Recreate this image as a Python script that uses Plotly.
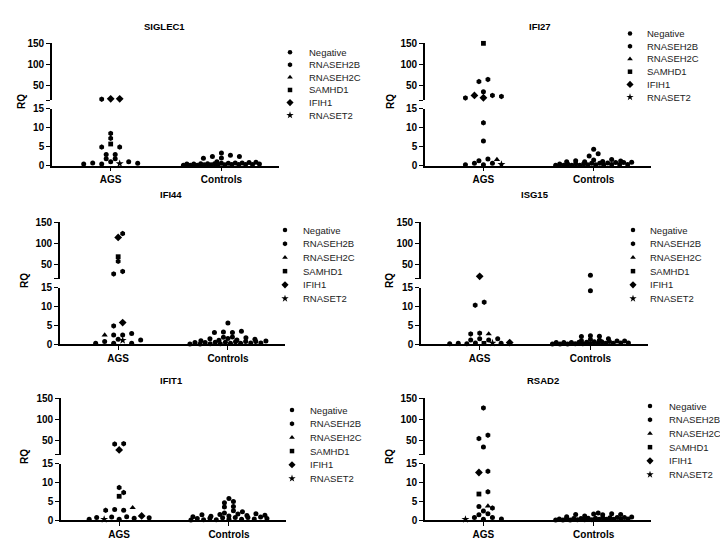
import plotly.graph_objects as go

W, H = 728, 540

GENES = ["SIGLEC1", "IFI27", "IFI44", "ISG15", "IFIT1", "RSAD2"]
GROUPS = ["AGS", "Controls"]
GENOTYPES = ["Negative", "RNASEH2B", "RNASEH2C", "SAMHD1", "IFIH1", "RNASET2"]
GT_CODE = {"N": "Negative", "B": "RNASEH2B", "C": "RNASEH2C", "S": "SAMHD1", "I": "IFIH1", "T": "RNASET2"}
LOW_TICKS = [0, 5, 10, 15]
HIGH_TICKS = [50, 100, 150]
AXIS_BREAK = 15
AXIS_MAX = 150

# ---- data (RQ values) ----
SIGLEC1_AGS = [18, 17, 18, 8.5, 7.2, 5.7, 4.9, 4.9, 2.9, 2.9, 1.8, 1.8, 1.0, 0.7, 0.5, 0.4, 0.4, 0.6, 1.0]
SIGLEC1_GT = ["I", "B", "I", "B", "B", "S", "B", "B", "N", "N", "N", "N", "N", "N", "T", "N", "N", "N", "N"]
SIGLEC1_CTRL = [3.3, 2.4, 2.0, 1.9, 2.4, 2.7, 1.0, 0.9, 0.8, 0.7, 0.7, 0.6, 0.6, 0.5, 0.5, 0.5, 0.4, 0.4,
                0.4, 0.3, 0.3, 0.3, 0.3, 0.2, 0.2, 0.2, 0.2, 0.1, 0.1, 0.1]

IFI27_AGS = [150, 59, 64, 35, 26, 20.5, 20, 23.7, 26, 11.3, 6.5, 1.7, 0.6, 0.3, 0.2, 0.2, 0.6, 1.3, 1.6]
IFI27_GT = ["S", "B", "B", "N", "I", "I", "B", "B", "B", "B", "N", "N", "N", "T", "N", "N", "N", "N", "C"]
IFI27_CTRL = [4.3, 3.1, 2.5, 1.6, 1.5, 1.3, 1.2, 1.1, 1.0, 1.0, 0.9, 0.8, 0.8, 0.7, 0.6, 0.6, 0.5, 0.5,
              0.4, 0.4, 0.3, 0.3, 0.3, 0.2, 0.2, 0.2, 0.1, 0.1, 0.1, 0.1]

IFI44_AGS = [123, 114, 68, 57, 33, 27, 5.8, 4.9, 2.9, 2.5, 2.5, 2.5, 1.4, 1.1, 1.2, 0.8, 0.3, 0.3, 0.3]
IFI44_GT = ["B", "I", "S", "B", "B", "B", "I", "B", "N", "C", "N", "N", "N", "T", "N", "N", "N", "N", "N"]
IFI44_CTRL = [5.7, 3.5, 3.3, 3.2, 3.2, 2.0, 1.9, 1.8, 1.6, 1.5, 1.4, 1.2, 1.1, 1.0, 0.9, 0.8, 0.8, 0.7,
              0.6, 0.6, 0.5, 0.5, 0.4, 0.4, 0.3, 0.3, 0.2, 0.2, 0.1, 0.1]

ISG15_AGS = [21.4, 10.4, 11.2, 2.8, 2.8, 3.0, 1.5, 1.2, 1.2, 1.5, 0.4, 0.2, 0.4, 0.5, 0.3, 0.3, 0.2, 0.3]
ISG15_GT = ["I", "B", "B", "B", "C", "B", "N", "N", "N", "N", "N", "N", "T", "I", "S", "N", "N", "N"]
ISG15_CTRL = [24, 14.2, 2.3, 2.1, 2.2, 1.5, 1.3, 1.1, 1.0, 0.9, 0.9, 0.8, 0.7, 0.7, 0.6, 0.6, 0.5, 0.5,
              0.5, 0.4, 0.4, 0.3, 0.3, 0.3, 0.2, 0.2, 0.2, 0.1, 0.1, 0.1]

IFIT1_AGS = [42, 41, 27, 8.7, 7.4, 6.4, 3.4, 2.7, 2.7, 2.9, 1.2, 1.0, 0.9, 0.7, 0.3, 0.3, 0.3, 0.6, 0.8]
IFIT1_GT = ["B", "B", "I", "B", "B", "S", "C", "B", "N", "N", "I", "N", "N", "N", "N", "T", "N", "N", "N"]
IFIT1_CTRL = [5.8, 5.0, 4.7, 3.7, 3.6, 2.6, 2.3, 2.0, 1.8, 1.7, 1.6, 1.5, 1.4, 1.3, 1.2, 1.1, 1.0, 0.9,
              0.8, 0.8, 0.7, 0.6, 0.5, 0.5, 0.4, 0.3, 0.3, 0.2, 0.2, 0.1]

RSAD2_AGS = [127, 62, 54, 34, 13.0, 12.7, 7.6, 7.0, 3.8, 3.7, 3.3, 2.5, 1.8, 1.5, 0.8, 0.8, 0.3, 0.3, 0.4]
RSAD2_GT = ["B", "B", "B", "N", "B", "I", "B", "S", "C", "N", "B", "N", "N", "N", "N", "N", "T", "N", "N"]
RSAD2_CTRL = [2.0, 1.8, 1.7, 1.6, 1.6, 1.5, 1.2, 1.0, 0.9, 0.8, 0.8, 0.7, 0.7, 0.6, 0.6, 0.5, 0.5, 0.5,
              0.4, 0.4, 0.4, 0.3, 0.3, 0.3, 0.2, 0.2, 0.2, 0.1, 0.1, 0.1]

DATA = {
    "SIGLEC1": (SIGLEC1_AGS, SIGLEC1_GT, SIGLEC1_CTRL),
    "IFI27": (IFI27_AGS, IFI27_GT, IFI27_CTRL),
    "IFI44": (IFI44_AGS, IFI44_GT, IFI44_CTRL),
    "ISG15": (ISG15_AGS, ISG15_GT, ISG15_CTRL),
    "IFIT1": (IFIT1_AGS, IFIT1_GT, IFIT1_CTRL),
    "RSAD2": (RSAD2_AGS, RSAD2_GT, RSAD2_CTRL),
}

# ---- styling / layout (pixels) ----
SYMBOL = {"Negative": "circle", "RNASEH2B": "hexagon", "RNASEH2C": "triangle-up",
          "SAMHD1": "square", "IFIH1": "diamond", "RNASET2": "star"}
MSIZE = {"Negative": 5, "RNASEH2B": 5.5, "RNASEH2C": 5.5, "SAMHD1": 4.8, "IFIH1": 6, "RNASET2": 6}
LSIZE = {"Negative": 4.5, "RNASEH2B": 5, "RNASEH2C": 5, "SAMHD1": 4.5, "IFIH1": 5.5, "RNASET2": 5.5}
XR = [0.47, 2.52]
SEG = 58      # pixel height of each axis segment
GAP = 9       # pixel gap of the axis break

# panel: x0, x1, top (px of 150), title (x,y), RQ x, legend (marker x, text x, first y, step)
PANELS = {
    "SIGLEC1": dict(x0=44, x1=271, top=30, tx=156, ty=13, rq=14, lg=(282, 299, 39, 12.9)),
    "IFI27":   dict(x0=417, x1=643, top=30, tx=532, ty=13, rq=383, lg=(622, 637, 20, 13.0)),
    "IFI44":   dict(x0=52, x1=277, top=213, tx=163, ty=185, rq=17, lg=(277, 293, 221, 14.0)),
    "ISG15":   dict(x0=413, x1=640, top=213, tx=527, ty=185, rq=382, lg=(625, 640, 221, 14.0)),
    "IFIT1":   dict(x0=53, x1=278, top=393, tx=163, ty=375, rq=17, lg=(284, 300, 405, 14.0)),
    "RSAD2":   dict(x0=417, x1=643, top=393, tx=535, ty=375, rq=382, lg=(642, 659, 401, 14.0)),
}

FONT = "Liberation Sans, Arial, sans-serif"


def px_height(v):
    """pixel height above baseline of a value on the broken axis"""
    if v <= AXIS_BREAK:
        return v * SEG / AXIS_BREAK
    return SEG + GAP + (v - AXIS_BREAK) * SEG / (AXIS_MAX - AXIS_BREAK)


def row_scatter(vals, row_h, step, max_half, clear):
    """Prism-like scatter: values that fall in the same row are spread symmetrically;
    a row is nudged sideways when it would sit on top of the row beneath."""
    ys = [px_height(v) for v in vals]
    order = sorted(range(len(vals)), key=lambda k: ys[k])
    rows, cur, start = [], [], None
    for i in order:
        if cur and ys[i] - start >= row_h:
            rows.append(cur)
            cur = []
        if not cur:
            start = ys[i]
        cur.append(i)
    if cur:
        rows.append(cur)
    xs = [0.0] * len(vals)
    placed = []
    for r in rows:
        n = len(r)
        s = step
        if n > 1 and (n - 1) * s / 2 > max_half:
            s = 2 * max_half / (n - 1)
        lo = r[: (n + 1) // 2]
        hi = r[(n + 1) // 2:]
        seq = [lo[k // 2] if k % 2 == 0 else hi[k // 2] for k in range(n)]
        base = [(k - (n - 1) / 2) * s for k in range(n)]
        best, best_d = 0.0, -1
        for sh in (0, step / 2, -step / 2, step, -step, 1.5 * step, -1.5 * step):
            dmin = min([((b + sh - qx) ** 2 + (ys[i] - qy) ** 2) ** 0.5
                        for b, i in zip(base, seq) for qx, qy in placed] or [99])
            if dmin >= clear:
                best = sh
                break
            if dmin > best_d:
                best, best_d = sh, dmin
        if n > 4:
            best = 0.0
        for b, i in zip(base, seq):
            xs[i] = b + best
            placed.append((xs[i], ys[i]))
    return xs


fig = go.Figure()
layout = dict(width=W, height=H, margin=dict(l=0, r=0, t=0, b=0),
              paper_bgcolor="white", plot_bgcolor="rgba(0,0,0,0)", showlegend=False,
              font=dict(family=FONT, color="black"))
annotations = []

axis_common = dict(showgrid=False, zeroline=False, showline=True, linecolor="black", linewidth=1.6,
                   ticks="outside", ticklen=4, tickwidth=1.4, tickcolor="black",
                   tickfont=dict(family=FONT, size=10, color="black", weight="bold"), fixedrange=True)

for gi, gene in enumerate(GENES):
    p = PANELS[gene]
    ags, gt, ctrl = DATA[gene]
    xn = "x" if gi == 0 else f"x{gi + 1}"
    ylo_n = 2 * gi + 1
    yhi_n = 2 * gi + 2
    ylo = "y" if ylo_n == 1 else f"y{ylo_n}"
    yhi = f"y{yhi_n}"
    xkey = "xaxis" if gi == 0 else f"xaxis{gi + 1}"
    ylokey = "yaxis" if ylo_n == 1 else f"yaxis{ylo_n}"
    yhikey = f"yaxis{yhi_n}"

    base = p["top"] + 2 * SEG + GAP
    low_dom = [1 - base / H, 1 - (base - SEG) / H]
    high_dom = [1 - (p["top"] + SEG) / H, 1 - p["top"] / H]
    xdom = [p["x0"] / W, p["x1"] / W]
    ppu = (p["x1"] - p["x0"]) / (XR[1] - XR[0])

    layout[xkey] = dict(axis_common, domain=xdom, range=XR, anchor=ylo,
                        tickvals=[1, 2], ticktext=GROUPS)
    layout[ylokey] = dict(axis_common, domain=low_dom, range=[0, AXIS_BREAK], anchor=xn,
                          tickvals=LOW_TICKS, ticktext=[str(t) for t in LOW_TICKS])
    layout[yhikey] = dict(axis_common, domain=high_dom, range=[AXIS_BREAK, AXIS_MAX], anchor=xn,
                          tickvals=[AXIS_BREAK] + HIGH_TICKS, ticktext=[""] + [str(t) for t in HIGH_TICKS])

    # AGS
    offs = row_scatter(ags, 3.6, 9.0, 30, 4.0)
    for g in GENOTYPES:
        for seg_axis, cond in ((ylo, lambda v: v <= AXIS_BREAK), (yhi, lambda v: v > AXIS_BREAK)):
            xs = [1 + o / ppu for v, c, o in zip(ags, gt, offs) if GT_CODE[c] == g and cond(v)]
            ys = [v for v, c in zip(ags, gt) if GT_CODE[c] == g and cond(v)]
            if xs:
                fig.add_trace(go.Scatter(x=xs, y=ys, mode="markers", xaxis=xn, yaxis=seg_axis,
                                         cliponaxis=False, hoverinfo="skip",
                                         marker=dict(symbol=SYMBOL[g], size=MSIZE[g], color="black",
                                                     line=dict(width=0))))
    # Controls
    coffs = row_scatter(ctrl, 3.2, 9.0, 38, 3.0)
    for seg_axis, cond in ((ylo, lambda v: v <= AXIS_BREAK), (yhi, lambda v: v > AXIS_BREAK)):
        xs = [2 + o / ppu for v, o in zip(ctrl, coffs) if cond(v)]
        ys = [v for v in ctrl if cond(v)]
        if xs:
            fig.add_trace(go.Scatter(x=xs, y=ys, mode="markers", xaxis=xn, yaxis=seg_axis,
                                     cliponaxis=False, hoverinfo="skip",
                                     marker=dict(symbol="circle", size=5, color="black", line=dict(width=0))))

    # title and RQ label
    annotations.append(dict(text=f"<b>{gene}</b>", x=p["tx"] / W, y=1 - p["ty"] / H, xref="paper", yref="paper",
                            showarrow=False, xanchor="center", yanchor="middle",
                            font=dict(family=FONT, size=9.5, color="black")))
    annotations.append(dict(text="<b>RQ</b>", x=p["rq"] / W, y=1 - (p["top"] + 60) / H, xref="paper", yref="paper",
                            showarrow=False, textangle=-90, xanchor="center", yanchor="middle",
                            font=dict(family=FONT, size=10, color="black")))

    # legend
    mx, tx, ly0, dy = p["lg"]
    for k, g in enumerate(GENOTYPES):
        yy = ly0 + k * dy
        fig.add_trace(go.Scatter(x=[mx], y=[yy], mode="markers", xaxis="x7", yaxis="y13",
                                 hoverinfo="skip", cliponaxis=False,
                                 marker=dict(symbol=SYMBOL[g], size=LSIZE[g], color="black",
                                             line=dict(width=0))))
        annotations.append(dict(text=g, x=tx / W, y=1 - yy / H, xref="paper", yref="paper",
                                showarrow=False, xanchor="left", yanchor="middle",
                                font=dict(family=FONT, size=9.5, color="#222")))

layout["xaxis7"] = dict(domain=[0, 1], range=[0, W], visible=False, anchor="y13", fixedrange=True)
layout["yaxis13"] = dict(domain=[0, 1], range=[H, 0], visible=False, anchor="x7", fixedrange=True)
layout["annotations"] = annotations
fig.update_layout(**layout)

fig.write_html("out.html")
